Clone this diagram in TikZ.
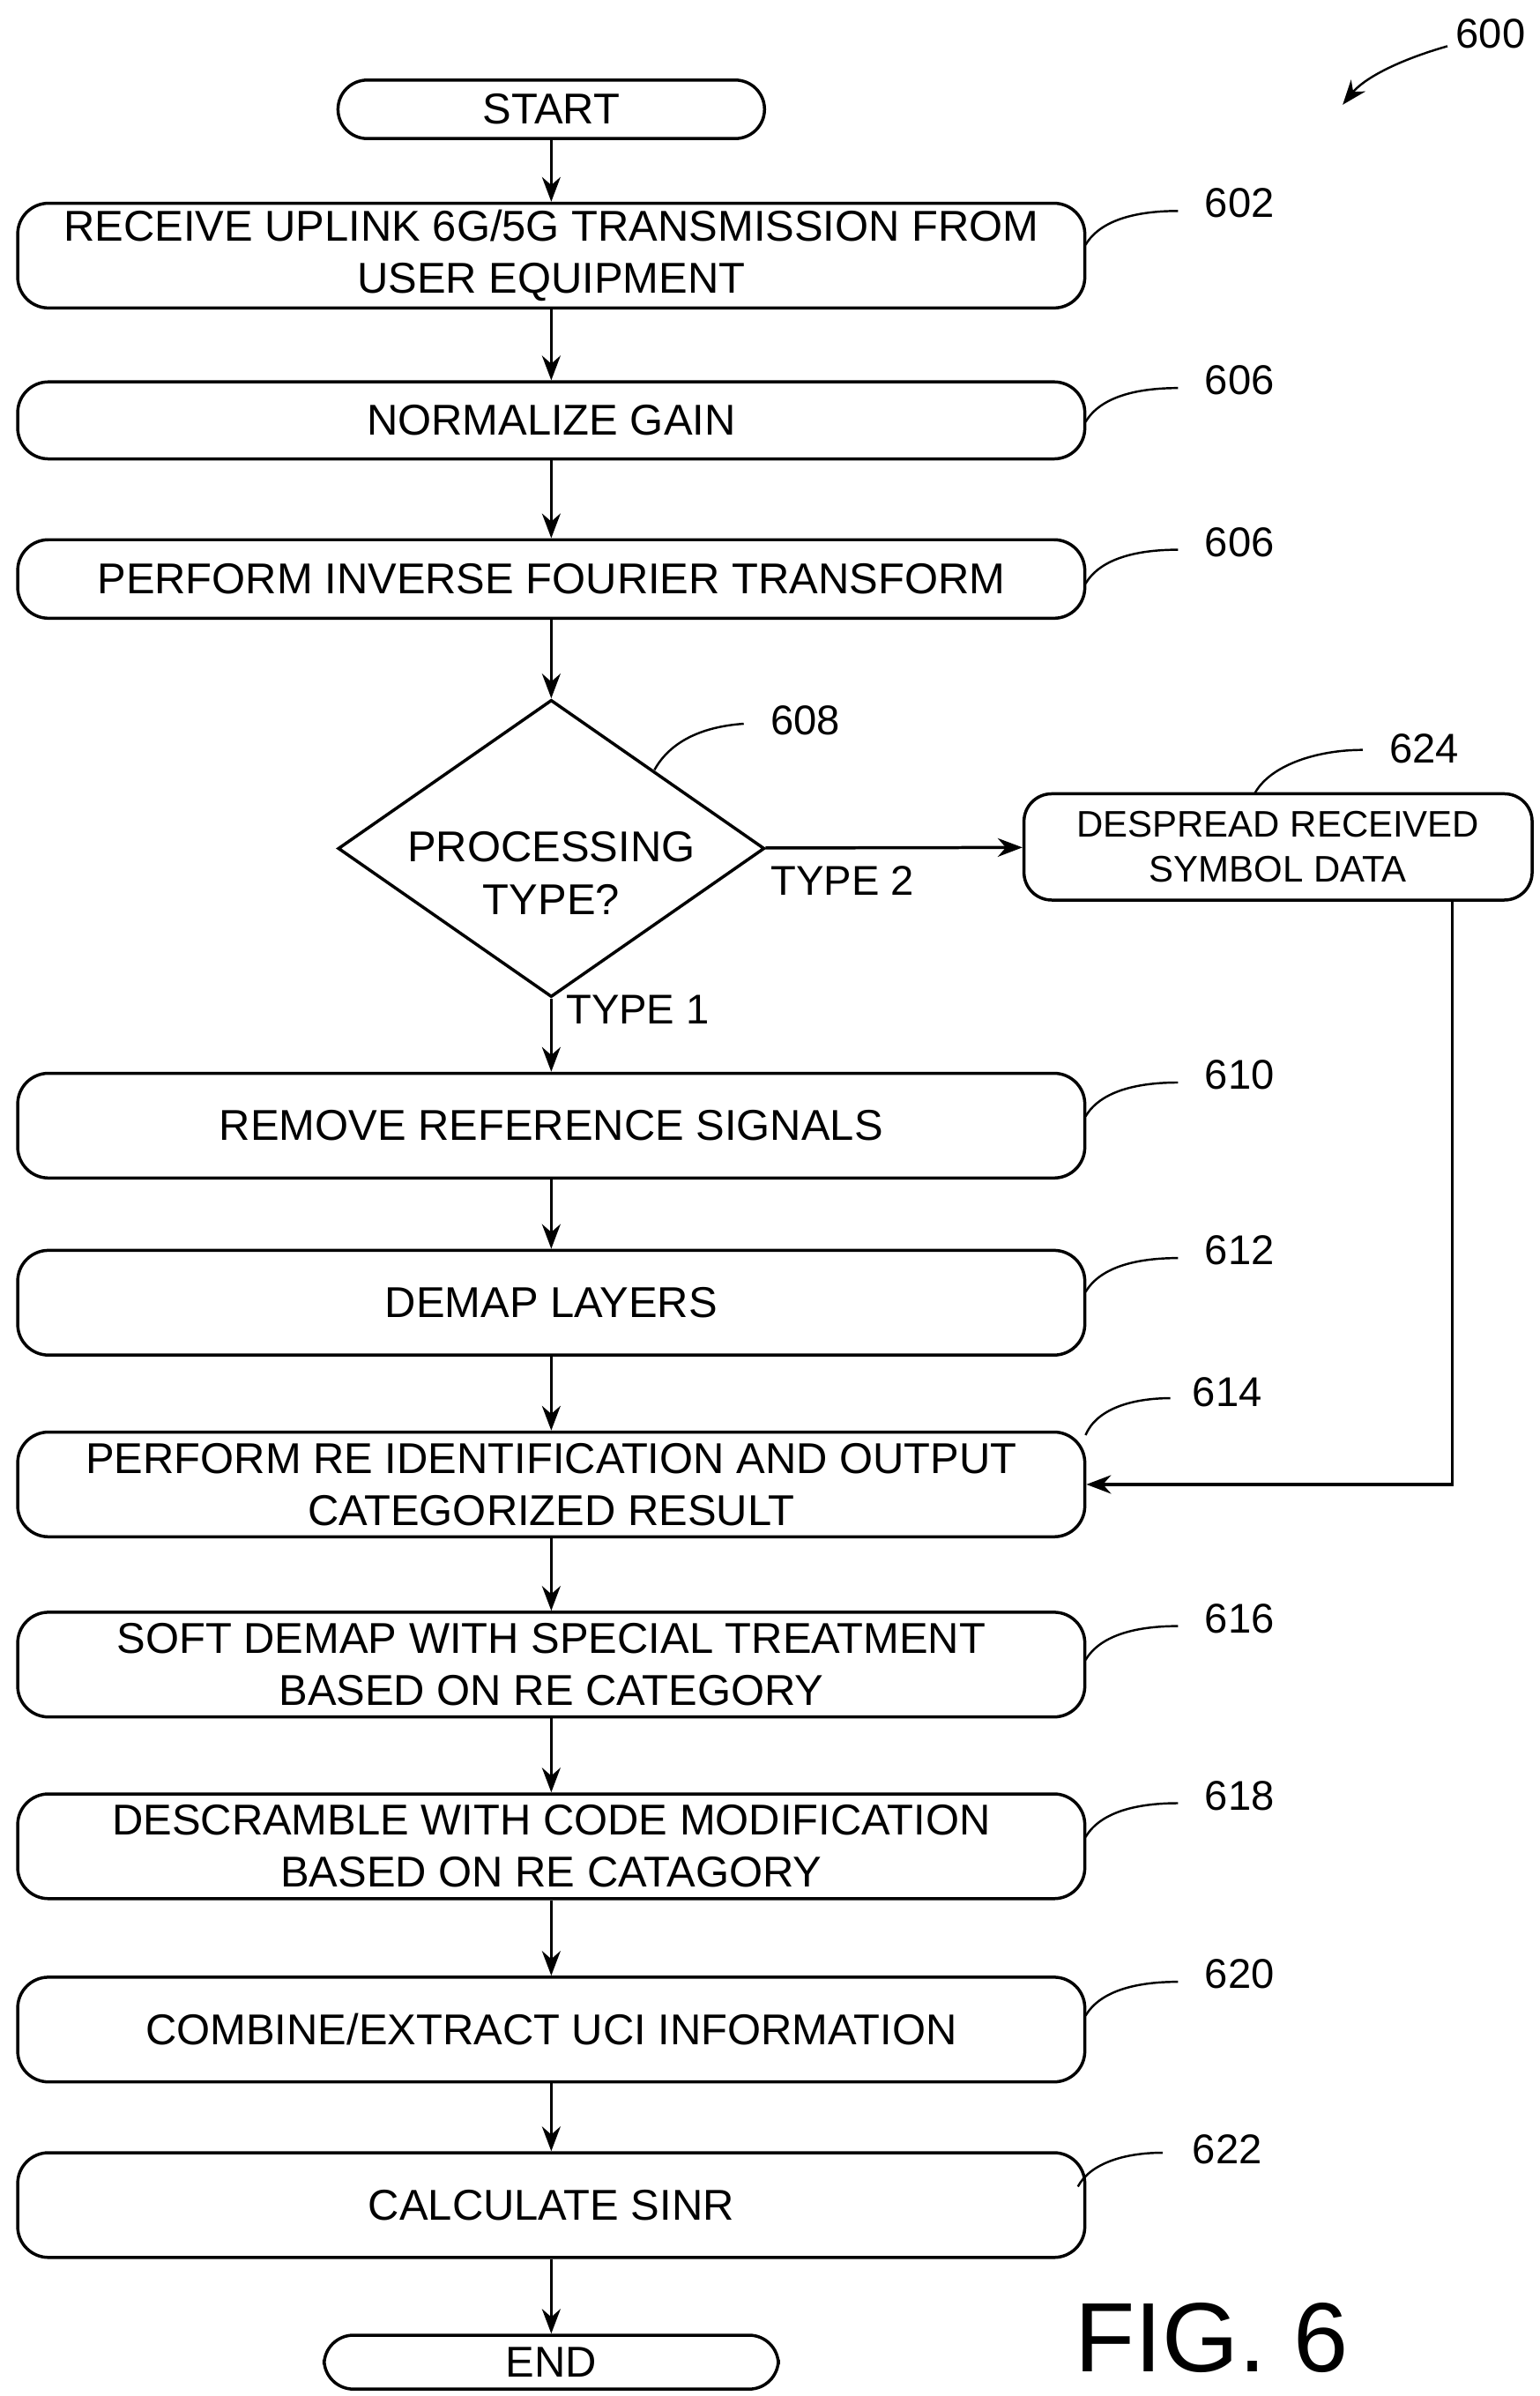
\documentclass[tikz,border=0pt]{standalone}
\usepackage{fontspec}
\setmainfont{Liberation Sans}
\usetikzlibrary{arrows.meta,shapes.geometric}
\begin{document}
\begin{tikzpicture}[x=0.5pt,y=-0.5pt,line width=1pt,
  box/.style={draw,rounded corners=10pt,minimum width=346.5pt,minimum height=34pt,align=center,font=\fontsize{14}{17}\selectfont,inner sep=0pt},
  term/.style={draw,rounded corners=9.5pt,minimum height=19pt,font=\fontsize{14}{16}\selectfont,inner sep=0pt},
  arr/.style={-{Stealth[length=8pt,width=6pt]}},
  lab/.style={font=\fontsize{13.5}{16}\selectfont},
  lead/.style={line width=0.7pt}]
\useasboundingbox (0,0) rectangle (1000,1556);
\node[term,minimum width=138.5pt] (start) at (358,71) {START};
\node[box] (b602) at (358,166) {RECEIVE UPLINK 6G/5G TRANSMISSION FROM\\USER EQUIPMENT};
\node[box,minimum height=25pt] (b606a) at (358,273) {NORMALIZE GAIN};
\node[box,minimum height=25.5pt] (b606b) at (358,376) {PERFORM INVERSE FOURIER TRANSFORM};
\node[draw,diamond,aspect=1.43,minimum width=138.5pt,minimum height=96.5pt,inner sep=0pt,align=center,font=\fontsize{14}{17}\selectfont] (d608) at (358,551) {};
\node[align=center,font=\fontsize{14}{17}\selectfont] (t608) at (358,567) {PROCESSING\\TYPE?};
\node[draw,rounded corners=9pt,minimum width=165pt,minimum height=34.5pt,align=center,inner sep=0pt,font=\fontsize{12}{14.5}\selectfont] (b624) at (830,550) {DESPREAD RECEIVED\\SYMBOL DATA};
\node[box] (b610) at (358,731) {REMOVE REFERENCE SIGNALS};
\node[box] (b612) at (358,846) {DEMAP LAYERS};
\node[box] (b614) at (358,964) {PERFORM RE IDENTIFICATION AND OUTPUT\\CATEGORIZED RESULT};
\node[box] (b616) at (358,1081) {SOFT DEMAP WITH SPECIAL TREATMENT\\BASED ON RE CATEGORY};
\node[box] (b618) at (358,1199) {DESCRAMBLE WITH CODE MODIFICATION\\BASED ON RE CATAGORY};
\node[box] (b620) at (358,1318) {COMBINE/EXTRACT UCI INFORMATION};
\node[box] (b622) at (358,1432) {CALCULATE SINR};
\node[term,minimum width=147.5pt,minimum height=17.5pt] (end) at (358,1534) {END};

\draw[arr] (start) -- (b602);
\draw[arr] (b602) -- (b606a);
\draw[arr] (b606a) -- (b606b);
\draw[arr] (b606b) -- (d608);
\draw[arr] (d608) -- (b610) node[lab,pos=0.15,right=1pt] {TYPE 1};
\draw[arr] (d608) -- (b624) node[lab,pos=0.3,below=2pt] {TYPE 2};
\draw[arr] (b610) -- (b612);
\draw[arr] (b612) -- (b614);
\draw[arr] (b614) -- (b616);
\draw[arr] (b616) -- (b618);
\draw[arr] (b618) -- (b620);
\draw[arr] (b620) -- (b622);
\draw[arr] (b622) -- (end);
\coordinate (c1) at (943,964);
\draw[arr] (b624.south -| c1) -- (c1) -- (b614.east);

\foreach \n/\y/\t in {602/132/602,606a/247/606,606b/352/606,610/698/610,612/812/612,620/1282/620,618/1166/618,616/1051/616}{
  \draw[lead] (705,\y+27) .. controls (715,\y+10) and (740,\y+5) .. (765,\y+5);
  \node[lab] (l\n) at (805,\y) {\t};
}
\draw[lead] (705,932) .. controls (712,915) and (735,908) .. (760,908);
\node[lab] (l614) at (797,904) {614};
\draw[lead] (700,1420) .. controls (708,1405) and (730,1398) .. (755,1398);
\node[lab] (l622) at (797,1396) {622};
\draw[lead] (425,500) .. controls (435,482) and (455,472) .. (483,470);
\node[lab] (l608) at (523,468) {608};
\draw[lead] (815,515) .. controls (825,497) and (855,487) .. (885,487);
\node[lab] (l624) at (925,486) {624};
\node[lab] (l600) at (968,22) {600};
\draw[arr,line width=0.7pt] (940,30) .. controls (905,40) and (885,52) .. (872,68);
\node[font=\fontsize{32}{34}\selectfont] (fig) at (787,1518) {FIG. 6};
\end{tikzpicture}
\end{document}
